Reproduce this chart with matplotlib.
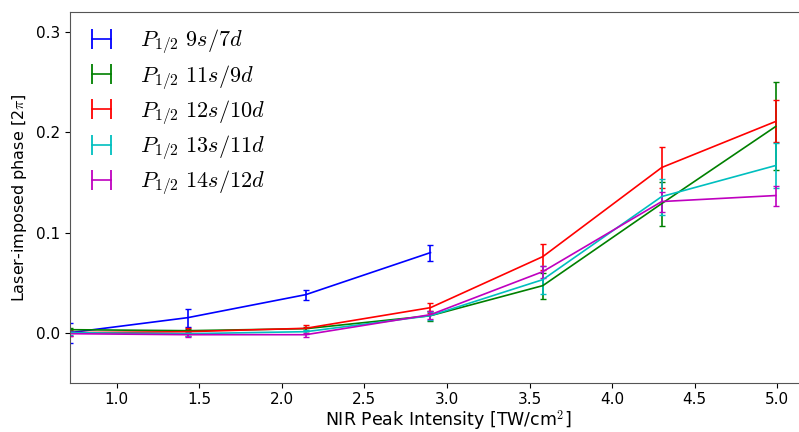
#! /usr/bin/env python3

import numpy as np
from matplotlib import pyplot as plt
from matplotlib.lines import Line2D

plt.rcParams['mathtext.fontset'] = 'cm'

# NIR peak intensity [TW/cm^2]
intensity = [0.715, 1.43, 2.145, 2.9, 3.58, 4.3, 4.99]

# phase values [2pi] and error bars
phase_9s = [0.0, 0.015, 0.038, 0.080]
err_9s = [0.010, 0.009, 0.005, 0.008]

phase_11s = [0.003, 0.002, 0.004, 0.017, 0.047, 0.129, 0.206]
err_11s = [0.002, 0.002, 0.002, 0.005, 0.013, 0.022, 0.044]

phase_12s = [0.0, 0.001, 0.0044, 0.025, 0.076, 0.165, 0.211]
err_12s = [0.003, 0.004, 0.003, 0.005, 0.013, 0.020, 0.021]

phase_13s = [0.0, -0.001, 0.001, 0.017, 0.053, 0.136, 0.167]
err_13s = [0.002, 0.002, 0.002, 0.004, 0.014, 0.018, 0.022]

phase_14s = [-0.001, -0.002, -0.002, 0.018, 0.061, 0.131, 0.137]
err_14s = [0.002, 0.002, 0.002, 0.004, 0.006, 0.010, 0.010]

series = [
    (phase_9s, err_9s, 'b', r'$P_{1/2}\ 9s/7d$'),
    (phase_11s, err_11s, 'g', r'$P_{1/2}\ 11s/9d$'),
    (phase_12s, err_12s, 'r', r'$P_{1/2}\ 12s/10d$'),
    (phase_13s, err_13s, 'c', r'$P_{1/2}\ 13s/11d$'),
    (phase_14s, err_14s, 'm', r'$P_{1/2}\ 14s/12d$'),
]

fig = plt.figure(figsize=(7.99, 4.32), dpi=100)
ax = fig.add_axes([0.087, 0.114, 0.948, 0.8575])

handles = []
for y, err, c, label in series:
    x = intensity[:len(y)]
    ax.errorbar(x, y, yerr=err, color=c, capsize=2, linewidth=1.2,
                elinewidth=1.2)
    # legend entry: horizontal line with end caps
    handles.append(Line2D([], [], color=c, linewidth=1.2, marker='|',
                          markersize=15, markeredgewidth=1.3, label=label))

ax.set_xlim(0.715, 5.3)
ax.set_ylim(-0.05, 0.32)
ax.set_xticks(np.arange(1.0, 5.01, 0.5))
ax.set_yticks([0.0, 0.1, 0.2, 0.3])
ax.tick_params(labelsize=11)
ax.set_xlabel('NIR Peak Intensity [TW/cm$^2$]', fontsize=12.5, labelpad=1)
ax.set_ylabel(r'Laser-imposed phase [2$\pi$]', fontsize=11.5, labelpad=5)
for s in ax.spines.values():
    s.set_color('#555555')

ax.legend(handles=handles, loc='upper left', fontsize=16, frameon=False,
          numpoints=2, handlelength=1.45, handletextpad=1.0,
          labelspacing=0.3, borderaxespad=0.3)

fig.savefig('out.png', dpi=100)
